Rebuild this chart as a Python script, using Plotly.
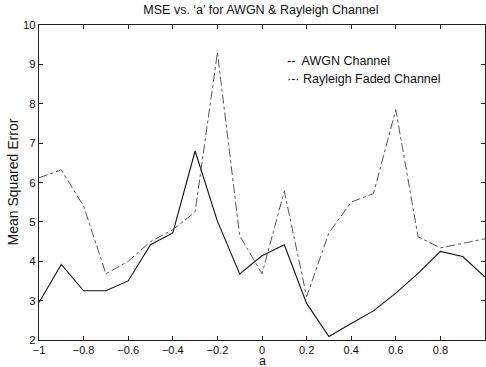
import plotly.graph_objects as go

a_vals = [-1.0, -0.9, -0.8, -0.7, -0.6, -0.5, -0.4, -0.3, -0.2, -0.1, 0.0,
          0.1, 0.2, 0.3, 0.4, 0.5, 0.6, 0.7, 0.8, 0.9, 1.0]
awgn_mse = [2.95, 3.92, 3.25, 3.25, 3.5, 4.42, 4.72, 6.8, 5.02, 3.68, 4.14,
            4.42, 2.93, 2.09, 2.42, 2.74, 3.19, 3.69, 4.25, 4.12, 3.6]
rayleigh_mse = [6.12, 6.32, 5.4, 3.68, 4.0, 4.5, 4.8, 5.25, 9.3, 4.65, 3.68,
                5.78, 3.1, 4.72, 5.5, 5.72, 7.85, 4.62, 4.34, 4.45, 4.57]
series_names = ["AWGN Channel", "Rayleigh Faded Channel"]
x_ticks = [-1, -0.8, -0.6, -0.4, -0.2, 0, 0.2, 0.4, 0.6, 0.8]
x_tick_text = ["\u22121", "\u22120.8", "\u22120.6", "\u22120.4", "\u22120.2", "0", "0.2", "0.4", "0.6", "0.8"]
y_ticks = [2, 3, 4, 5, 6, 7, 8, 9, 10]
x_title = "a"
y_title = "Mean Squared Error"

font = "Liberation Sans, Arial, sans-serif"

fig = go.Figure()
fig.add_trace(go.Scatter(x=a_vals, y=awgn_mse, mode="lines", name=series_names[0],
                         line=dict(color="#111111", width=1.1)))
fig.add_trace(go.Scatter(x=a_vals, y=rayleigh_mse, mode="lines", name=series_names[1],
                         line=dict(color="#555555", width=1, dash="dashdot")))

fig.update_layout(
    width=486, height=367,
    margin=dict(l=39, r=1, t=25, b=27),
    paper_bgcolor="white", plot_bgcolor="white",
    showlegend=False,
    font=dict(family=font, size=11.5, color="#111111"),
    title=dict(text="MSE vs. \u2018a\u2019 for AWGN & Rayleigh Channel",
               x=0.537, xanchor="center", y=0.985, yanchor="top",
               font=dict(size=12.5)),
)
fig.update_xaxes(range=[-1, 1], tickvals=x_ticks, ticktext=x_tick_text,
                 showline=True, linecolor="#222222", linewidth=1, mirror="allticks",
                 ticks="inside", ticklen=4, tickcolor="#222222",
                 tickfont=dict(size=11),
                 automargin=False,
                 showgrid=False, zeroline=False)
fig.update_yaxes(range=[2, 10], tickvals=y_ticks,
                 showline=True, linecolor="#222222", linewidth=1, mirror="allticks",
                 ticks="inside", ticklen=4, tickcolor="#222222",
                 automargin=False,
                 showgrid=False, zeroline=False)

fig.add_annotation(xref="paper", yref="paper", x=0.5, y=-0.0667, xanchor="center", yanchor="middle",
                   text=x_title, showarrow=False, font=dict(size=12.5))
fig.add_annotation(xref="paper", yref="paper", x=-0.0605, y=0.5, xanchor="center", yanchor="middle",
                   text=y_title, textangle=-90, showarrow=False, font=dict(size=14))

fig.add_annotation(xref="paper", yref="paper", x=0.552, y=0.885, xanchor="left", yanchor="middle",
                   text="--  " + series_names[0], showarrow=False, font=dict(size=12.5))
fig.add_annotation(xref="paper", yref="paper", x=0.552, y=0.83, xanchor="left", yanchor="middle",
                   text="\u00b7-\u00b7 " + series_names[1], showarrow=False, font=dict(size=12.5))

fig.write_html("out.html")
